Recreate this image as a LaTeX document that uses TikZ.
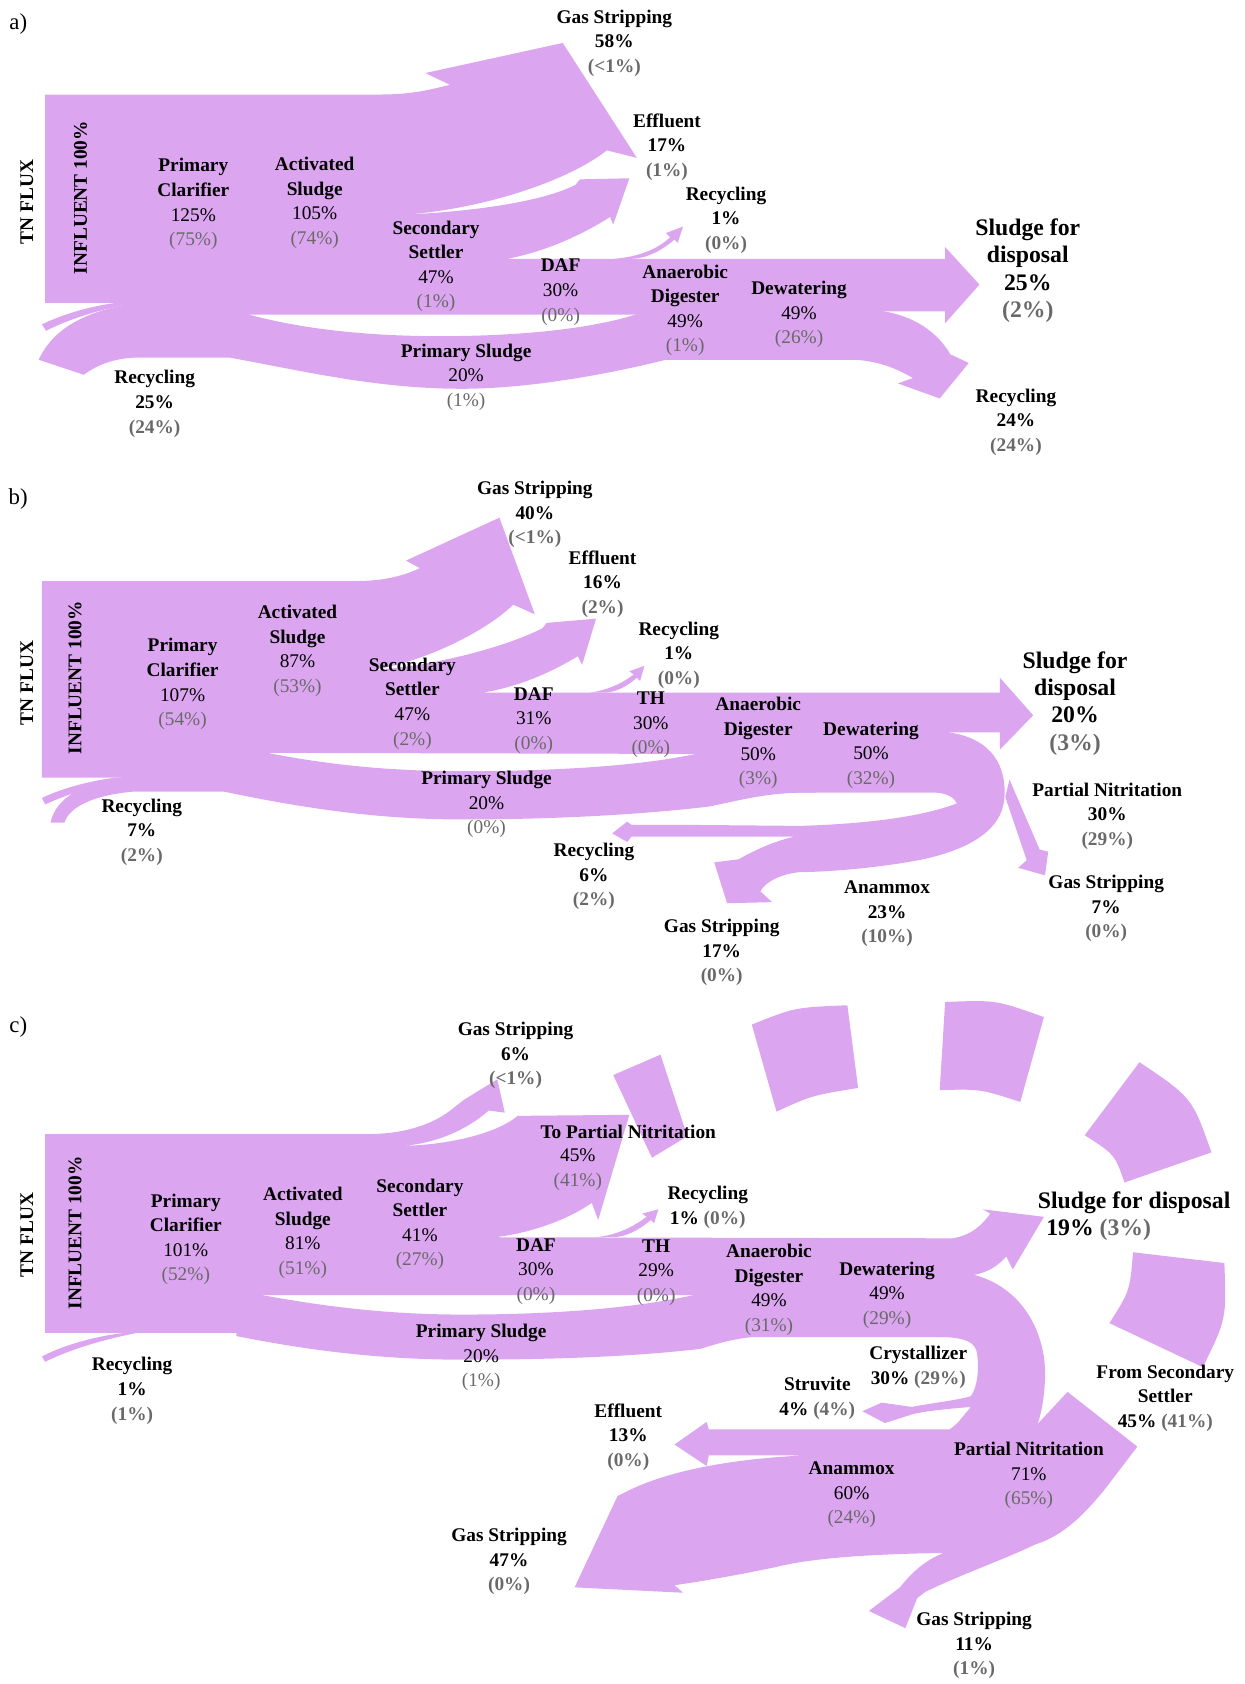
\documentclass[tikz,border=0pt]{standalone}
\usepackage{fontspec}
\setmainfont{Liberation Serif}
\definecolor{flowc}{RGB}{219,166,239}
\definecolor{pctgray}{RGB}{105,105,105}
\newcommand{\gpct}[1]{\textcolor{pctgray}{(#1)}}
\newcommand{\stagetxt}[3]{#1\\#2\\\gpct{#3}}
\begin{document}
\begin{tikzpicture}[x=0.0214841cm,y=-0.0214841cm,
        band/.style={draw=none,fill=flowc},
        stage/.style={align=center,inner sep=0pt,font=\fontsize{11}{14}\selectfont},
        outlbl/.style={align=center,inner sep=0pt,font=\fontsize{11}{14}\selectfont\bfseries},
        biglbl/.style={align=center,inner sep=0pt,font=\fontsize{13.5}{15.5}\selectfont\bfseries},
        vlbl/.style={rotate=90,inner sep=0pt,font=\fontsize{11}{14}\selectfont\bfseries},
        panel/.style={inner sep=0pt,font=\fontsize{13}{15}\selectfont}]
        \useasboundingbox (0,0) rectangle (1159,1568);
        % panel a
        \draw [band] (42,88) -- (354,88) .. controls (385,88) and (402,83) .. (419,79) -- (396,68) -- (524,40) -- (593,147) -- (565,140) .. controls (530,168) and (450,195) .. (375,200) .. controls (440,197) and (505,188) .. (536,172) -- (540,167) -- (586,166) -- (571,209) -- (568,202) .. controls (540,220) and (505,235) .. (472,241) -- (880,241) -- (880,230) -- (912,265) -- (880,301) -- (880,290) -- (600,290) -- (600,293) -- (232,293) -- (232,286) -- (120,286) -- (110,282) -- (42,282) -- cycle;
        \draw [band] (36,335) .. controls (50,305) and (80,290) .. (125,282) -- (232,282) -- (232,293) .. controls (280,306) and (340,313) .. (410,313) .. controls (490,313) and (560,305) .. (600,290) -- (605,287) -- (800,287) -- (800,335) -- (620,335) .. controls (580,345) and (500,362) .. (430,362) .. controls (350,362) and (280,345) .. (214,333) -- (125,333) .. controls (105,334) and (90,340) .. (78,349) -- cycle;
        \draw [band] (785,287) -- (809,288) .. controls (845,291) and (870,305) .. (885,330) -- (902,338) -- (875,371) -- (836,357) -- (850,352) .. controls (830,340) and (810,335) .. (792,335) -- (785,335) -- cycle;
        \draw [band] (572,241) .. controls (595,239) and (612,232) .. (624,221) -- (620,217) -- (636,211) -- (631,226) -- (628,223) .. controls (616,234) and (600,241) .. (588,241) -- cycle;
        \draw [band] (39,302) .. controls (60,292) and (85,285) .. (108,282) -- (120,283) .. controls (90,289) and (62,298) .. (43,308) -- cycle;
        \node [panel] (pa) at (17,22) {a)};
        \node [vlbl] (tnA) at (25,188) {TN FLUX};
        \node [vlbl] (infA) at (75,184) {INFLUENT 100\%};
        \node [stage] (pcA) at (180,190) {\stagetxt{\textbf{Primary}\\\textbf{Clarifier}}{125\%}{75\%}};
        \node [stage] (asA) at (293,189) {\stagetxt{\textbf{Activated}\\\textbf{Sludge}}{105\%}{74\%}};
        \node [stage] (ssA) at (406,248) {\stagetxt{\textbf{Secondary}\\\textbf{Settler}}{47\%}{1\%}};
        \node [stage] (dafA) at (522,272) {\stagetxt{\textbf{DAF}}{30\%}{0\%}};
        \node [stage] (adA) at (638,289) {\stagetxt{\textbf{Anaerobic}\\\textbf{Digester}}{49\%}{1\%}};
        \node [stage] (dwA) at (744,293) {\stagetxt{\textbf{Dewatering}}{49\%}{26\%}};
        \node [stage] (psA) at (434,351) {\stagetxt{\textbf{Primary Sludge}}{20\%}{1\%}};
        \node [outlbl] (gsA) at (572,40) {Gas Stripping\\58\%\\\gpct{<1\%}};
        \node [outlbl] (efA) at (621,137) {Effluent\\17\%\\\gpct{1\%}};
        \node [outlbl] (rcA) at (676,205) {Recycling\\1\%\\\gpct{0\%}};
        \node [biglbl] (sdA) at (957,252) {Sludge for\\disposal\\25\%\\\gpct{2\%}};
        \node [outlbl] (rcoA) at (946,393) {Recycling\\24\%\\\gpct{24\%}};
        \node [outlbl] (rciA) at (144,376) {Recycling\\25\%\\\gpct{24\%}};
        % panel b
        \draw [band] (39,541) -- (332,541) .. controls (360,541) and (378,535) .. (391,529) -- (378,522) -- (465,482) -- (498,572) -- (478,563) .. controls (450,590) and (390,618) .. (345,624) .. controls (400,621) and (470,603) .. (505,585) -- (509,580) -- (555,576) -- (542,619) -- (538,611) .. controls (510,628) and (480,640) .. (449,645) -- (931,645) -- (931,631) -- (962,666) -- (931,698) -- (931,682) -- (884,682) -- (884,738) -- (700,738) -- (648,702) -- (249,701) -- (249,724) -- (39,724) -- cycle;
        \draw [band] (112,724) -- (249,701) .. controls (320,715) and (380,718) .. (430,718) .. controls (530,718) and (600,712) .. (648,702) -- (760,702) -- (760,738) -- (745,738) .. controls (710,739) and (690,745) .. (660,751) .. controls (610,757) and (530,763) .. (430,763) .. controls (350,763) and (280,752) .. (208,737) -- (125,737) .. controls (90,740) and (65,750) .. (60,766) -- (47,766) .. controls (52,742) and (80,728) .. (112,724) -- cycle;
        \draw [band] (884,682) .. controls (925,688) and (938,715) .. (935,745) .. controls (932,772) and (905,790) .. (860,800) .. controls (820,808) and (770,812) .. (745,812) .. controls (725,814) and (712,822) .. (708,830) -- (719,840) -- (677,841) -- (665,803) -- (688,800) .. controls (705,790) and (725,782) .. (740,779) -- (636,779) -- (588,779) -- (584,784) -- (570,776) -- (584,765) -- (588,768) -- (636,768) -- (745,769) .. controls (810,767) and (860,760) .. (891,748) .. controls (888,742) and (882,739) .. (872,738) -- (872,684) -- cycle;
        \draw [band] (936,742) -- (956,801) -- (948,808) -- (973,815) -- (976,793) -- (968,791) -- (940,726) -- cycle;
        \draw [band] (548,645) .. controls (565,643) and (580,636) .. (590,628) -- (586,625) -- (600,620) -- (596,634) -- (593,631) .. controls (583,640) and (572,645) .. (562,645) -- cycle;
        \draw [band] (39,743) .. controls (60,733) and (85,727) .. (108,724) -- (115,725) .. controls (88,731) and (62,740) .. (42,749) -- cycle;
        \node [panel] (pb) at (17,465) {b)};
        \node [vlbl] (tnB) at (25,636) {TN FLUX};
        \node [vlbl] (infB) at (70,631) {INFLUENT 100\%};
        \node [stage] (pcB) at (170,637) {\stagetxt{\textbf{Primary}\\\textbf{Clarifier}}{107\%}{54\%}};
        \node [stage] (asB) at (277,606) {\stagetxt{\textbf{Activated}\\\textbf{Sludge}}{87\%}{53\%}};
        \node [stage] (ssB) at (384,655) {\stagetxt{\textbf{Secondary}\\\textbf{Settler}}{47\%}{2\%}};
        \node [stage] (dafB) at (497,671) {\stagetxt{\textbf{DAF}}{31\%}{0\%}};
        \node [stage] (thB) at (606,675) {\stagetxt{\textbf{TH}}{30\%}{0\%}};
        \node [stage] (adB) at (706,692) {\stagetxt{\textbf{Anaerobic}\\\textbf{Digester}}{50\%}{3\%}};
        \node [stage] (dwB) at (811,703) {\stagetxt{\textbf{Dewatering}}{50\%}{32\%}};
        \node [stage] (psB) at (453,749) {\stagetxt{\textbf{Primary Sludge}}{20\%}{0\%}};
        \node [outlbl] (gsB) at (498,479) {Gas Stripping\\40\%\\\gpct{<1\%}};
        \node [outlbl] (efB) at (561,544) {Effluent\\16\%\\\gpct{2\%}};
        \node [outlbl] (rcB) at (632,610) {Recycling\\1\%\\\gpct{0\%}};
        \node [biglbl] (sdB) at (1001,655) {Sludge for\\disposal\\20\%\\\gpct{3\%}};
        \node [outlbl] (pnB) at (1031,760) {Partial Nitritation\\30\%\\\gpct{29\%}};
        \node [outlbl] (gssB) at (1030,846) {Gas Stripping\\7\%\\\gpct{0\%}};
        \node [outlbl] (anB) at (826,851) {Anammox\\23\%\\\gpct{10\%}};
        \node [outlbl] (gsaB) at (672,887) {Gas Stripping\\17\%\\\gpct{0\%}};
        \node [outlbl] (rcaB) at (553,816) {Recycling\\6\%\\\gpct{2\%}};
        \node [outlbl] (rciB) at (132,775) {Recycling\\7\%\\\gpct{2\%}};
        % panel c
        \draw [band] (42,1056) -- (341,1056) .. controls (375,1056) and (400,1048) .. (418,1035) -- (432,1024) -- (463,1005) -- (470,1036) -- (455,1034) .. controls (435,1052) and (405,1065) .. (374,1067) .. controls (420,1066) and (460,1055) .. (478,1042) -- (482,1039) -- (586,1038) -- (557,1136) -- (551,1120) .. controls (530,1135) and (495,1148) .. (461,1152) -- (887,1153) .. controls (905,1150) and (915,1140) .. (922,1130) -- (915,1126) -- (972,1133) -- (943,1182) -- (937,1170) .. controls (928,1180) and (918,1185) .. (907,1187) -- (880,1245) -- (700,1245) -- (645,1206) -- (245,1206) -- (245,1241) -- (42,1241) -- cycle;
        \draw [band] (220,1241) -- (245,1206) .. controls (320,1220) and (380,1224) .. (430,1224) .. controls (530,1224) and (600,1216) .. (645,1206) -- (700,1206) -- (700,1245) .. controls (680,1247) and (665,1252) .. (652,1256) .. controls (590,1263) and (520,1266) .. (430,1266) .. controls (350,1266) and (280,1256) .. (220,1244) -- cycle;
        \draw [band] (870,1245) -- (870,1187) -- (907,1187) .. controls (955,1200) and (975,1245) .. (973,1285) .. controls (972,1305) and (969,1318) .. (966,1326) -- (994,1296) -- (1059,1347) -- (1030,1385) .. controls (1010,1410) and (990,1430) .. (964,1438) .. controls (935,1452) and (895,1466) .. (862,1482) -- (854,1488) -- (843,1516) -- (809,1500) -- (838,1478) .. controls (848,1465) and (862,1452) .. (879,1446) .. controls (800,1447) and (750,1452) .. (723,1459) .. controls (690,1466) and (650,1473) .. (628,1476) -- (636,1483) -- (535,1478) -- (575,1393) -- (583,1389) .. controls (620,1370) and (680,1358) .. (753,1355) -- (660,1355) -- (658,1365) -- (628,1345) -- (658,1324) -- (660,1331) -- (884,1331) .. controls (888,1328) and (892,1325) .. (894,1322) -- (904,1310) .. controls (880,1312) and (860,1314) .. (849,1317) -- (824,1325) -- (803,1314) -- (821,1306) -- (849,1310) .. controls (870,1306) and (890,1304) .. (904,1300) .. controls (911,1290) and (912,1270) .. (909,1257) .. controls (906,1250) and (900,1246) .. (880,1245) -- cycle;
        \draw [band] (555,1152) .. controls (575,1150) and (590,1142) .. (602,1133) -- (598,1130) -- (613,1126) -- (609,1139) -- (606,1136) .. controls (594,1146) and (582,1152) .. (570,1152) -- cycle;
        \draw [band] (39,1263) .. controls (60,1252) and (90,1244) .. (116,1241) -- (128,1241) .. controls (92,1248) and (62,1258) .. (42,1268) -- cycle;
        \draw [band] (571,1001) -- (615,982) -- (640,1058) -- (607,1078) -- cycle;
        \draw [band] (700,954) .. controls (740,938) .. (789,936) -- (799,1013) .. controls (756,1020) .. (723,1035) -- cycle;
        \draw [band] (880,933) .. controls (927,931) .. (972,947) -- (950,1026) .. controls (913,1014) .. (875,1015) -- cycle;
        \draw [band] (1061,989) .. controls (1110,1022) .. (1128,1073) -- (1047,1101) .. controls (1038,1075) .. (1010,1057) -- cycle;
        \draw [band] (1140,1176) .. controls (1142,1228) .. (1120,1273) -- (1033,1232) .. controls (1052,1202) .. (1055,1166) -- cycle;
        \node [panel] (pc) at (17,956) {c)};
        \node [vlbl] (tnC) at (25,1150) {TN FLUX};
        \node [vlbl] (infC) at (70,1148) {INFLUENT 100\%};
        \node [stage] (pcC) at (173,1154) {\stagetxt{\textbf{Primary}\\\textbf{Clarifier}}{101\%}{52\%}};
        \node [stage] (asC) at (282,1148) {\stagetxt{\textbf{Activated}\\\textbf{Sludge}}{81\%}{51\%}};
        \node [stage] (ssC) at (391,1140) {\stagetxt{\textbf{Secondary}\\\textbf{Settler}}{41\%}{27\%}};
        \node [stage] (dafC) at (499,1184) {\stagetxt{\textbf{DAF}}{30\%}{0\%}};
        \node [stage] (thC) at (611,1185) {\stagetxt{\textbf{TH}}{29\%}{0\%}};
        \node [stage] (adC) at (716,1201) {\stagetxt{\textbf{Anaerobic}\\\textbf{Digester}}{49\%}{31\%}};
        \node [stage] (dwC) at (826,1206) {\stagetxt{\textbf{Dewatering}}{49\%}{29\%}};
        \node [stage] (psC) at (448,1264) {\stagetxt{\textbf{Primary Sludge}}{20\%}{1\%}};
        \node [stage] (pnC) at (958,1374) {\stagetxt{\textbf{Partial Nitritation}}{71\%}{65\%}};
        \node [stage] (anC) at (793,1392) {\stagetxt{\textbf{Anammox}}{60\%}{24\%}};
        \node [stage, anchor=west] (toC) at (503,1054) {\textbf{To Partial Nitritation}};
        \node [stage] (tovC) at (538,1089) {45\%\\\gpct{41\%}};
        \node [outlbl] (gsC) at (480,983) {Gas Stripping\\6\%\\\gpct{<1\%}};
        \node [outlbl] (rcC) at (659,1124) {Recycling\\1\% \gpct{0\%}};
        \node [biglbl] (sdC) at (1056,1120) {Sludge for disposal};
        \node [biglbl] (sdvC) at (1023,1145) {19\% \gpct{3\%}};
        \node [outlbl] (fsC) at (1085,1302) {From Secondary\\Settler\\45\% \gpct{41\%}};
        \node [outlbl] (crC) at (855,1273) {Crystallizer\\30\% \gpct{29\%}};
        \node [outlbl] (stC) at (761,1302) {Struvite\\4\% \gpct{4\%}};
        \node [outlbl] (efC) at (585,1338) {Effluent\\13\%\\\gpct{0\%}};
        \node [outlbl] (gsaC) at (474,1454) {Gas Stripping\\47\%\\\gpct{0\%}};
        \node [outlbl] (gsbC) at (907,1532) {Gas Stripping\\11\%\\\gpct{1\%}};
        \node [outlbl] (rciC) at (123,1295) {Recycling\\1\%\\\gpct{1\%}};
\end{tikzpicture}
\end{document}
